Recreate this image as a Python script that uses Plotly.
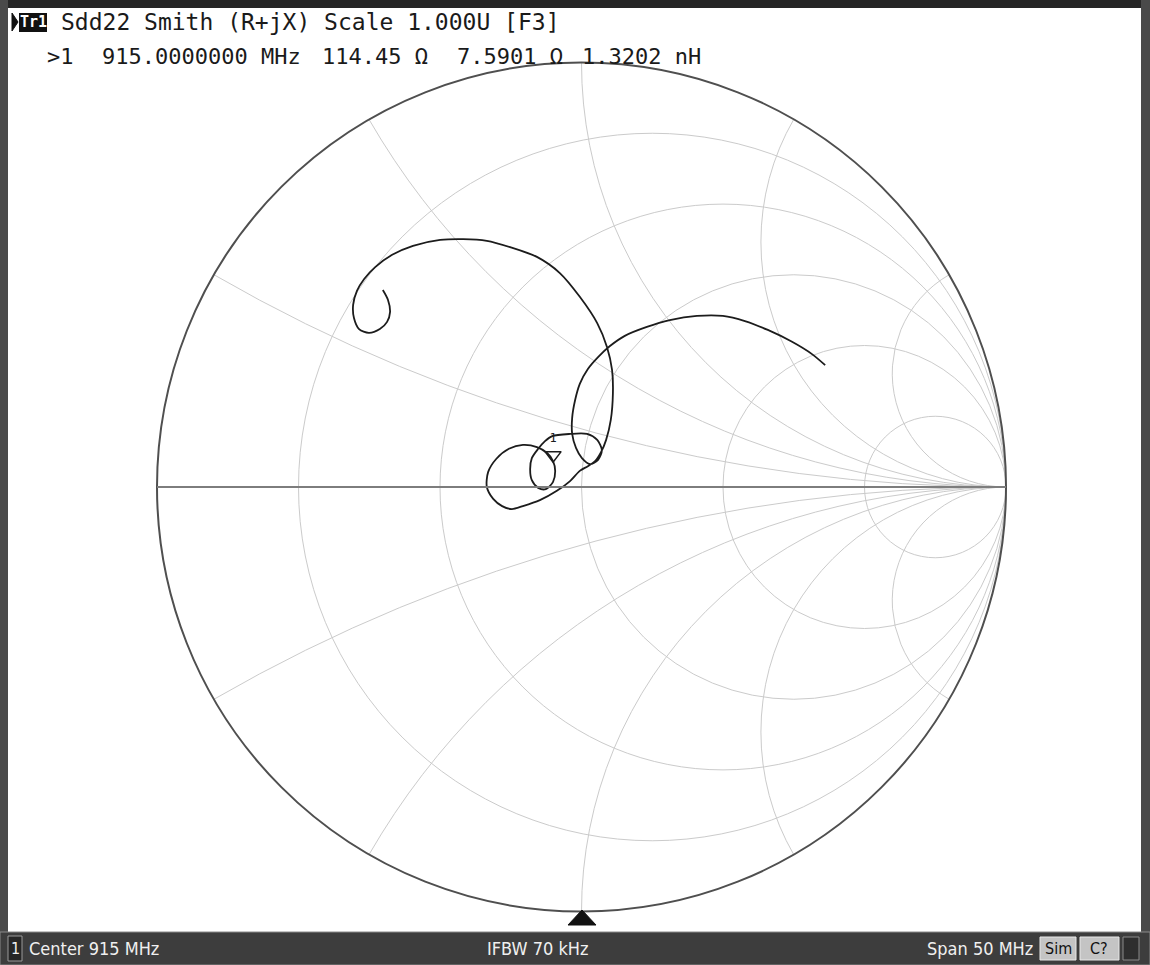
import numpy as np
import plotly.graph_objects as go

W, H = 1150, 965

# ---- data: Sdd22 reflection coefficient (890 -> 940 MHz) ----
GAMMA_RE = [-0.468, -0.456, -0.451, -0.458, -0.475, -0.501, -0.524, -0.536, -0.538, -0.529,
            -0.512, -0.486, -0.446, -0.397, -0.333, -0.279, -0.223, -0.168, -0.105, -0.051,
            -0.004, 0.037, 0.060, 0.072, 0.074, 0.069, 0.058, 0.046, 0.032, 0.015,
            -0.004, -0.027, -0.058, -0.098, -0.138, -0.164, -0.187, -0.208, -0.223, -0.220,
            -0.201, -0.171, -0.138, -0.105, -0.081, -0.067, -0.062, -0.067, -0.084, -0.102,
            -0.117, -0.121, -0.117, -0.102, -0.086, -0.069, -0.027, 0.013, 0.037, 0.048,
            0.039, 0.020, 0.001, -0.013, -0.022, -0.022, -0.015, -0.004, 0.015, 0.039,
            0.067, 0.102, 0.154, 0.208, 0.272, 0.333, 0.385, 0.439, 0.496, 0.543, 0.574]
GAMMA_IM = [0.464, 0.441, 0.412, 0.389, 0.372, 0.363, 0.372, 0.398, 0.429, 0.462,
            0.490, 0.518, 0.547, 0.568, 0.582, 0.584, 0.580, 0.565, 0.542, 0.504,
            0.448, 0.386, 0.330, 0.276, 0.221, 0.158, 0.111, 0.082, 0.061, 0.049,
            0.038, 0.014, -0.009, -0.031, -0.045, -0.052, -0.045, -0.028, 0.000, 0.035,
            0.066, 0.090, 0.099, 0.094, 0.080, 0.061, 0.038, 0.012, -0.005, -0.002,
            0.016, 0.042, 0.068, 0.090, 0.108, 0.120, 0.125, 0.125, 0.111, 0.087,
            0.064, 0.054, 0.068, 0.092, 0.125, 0.163, 0.205, 0.243, 0.278, 0.306,
            0.332, 0.356, 0.377, 0.393, 0.403, 0.403, 0.391, 0.370, 0.342, 0.313, 0.287]

MARKER_LABEL = ["1"]
MARKER_GAMMA_RE = [-0.067]
MARKER_GAMMA_IM = [0.075]

# grid values (normalised resistance circles / reactance arcs)
R_GRID = [0.2, 0.5, 1, 2, 5]
X_GRID = [0.268, 0.577, 1, 1.732, 3.732]

HEADER = "Sdd22 Smith (R+jX) Scale 1.000U [F3]"
READOUT_PARTS = [(">1", 45), ("915.0000000 MHz", 100), ("114.45 \u03a9", 320),
                 ("7.5901 \u03a9", 455), ("1.3202 nH", 580)]
STATUS_LEFT = "Center 915 MHz"
STATUS_MID = "IFBW 70 kHz"
STATUS_RIGHT = "Span 50 MHz"

# ---- helpers ----
def px(x):
    return x / W

def py(y):
    return 1 - y / H

def to_z(re, im):
    g = np.array(re) + 1j * np.array(im)
    return (1 + g) / (1 - g)

z = to_z(GAMMA_RE, GAMMA_IM)
zm = to_z(MARKER_GAMMA_RE, MARKER_GAMMA_IM)

fig = go.Figure()
fig.add_trace(go.Scattersmith(
    real=z.real, imag=z.imag, mode="lines",
    line=dict(color="#1c1c1c", width=1.8, shape="spline", smoothing=0.8),
    hoverinfo="skip"))
fig.add_trace(go.Scattersmith(
    real=zm.real, imag=zm.imag, mode="markers+text", text=MARKER_LABEL,
    textposition="top center", textfont=dict(family="DejaVu Sans Mono", size=12, color="#1c1c1c"),
    marker=dict(symbol="triangle-down-open", size=14, color="#1c1c1c", line=dict(width=1.5)),
    hoverinfo="skip"))

cx, cy, rad = 581.5, 487.0, 424.5
x_ticks = sorted([-v for v in X_GRID] + X_GRID)

fig.update_layout(
    width=W, height=H,
    margin=dict(l=0, r=0, t=0, b=0),
    paper_bgcolor="white",
    showlegend=False,
    smith=dict(
        domain=dict(x=[px(cx - rad), px(cx + rad)], y=[py(cy + rad), py(cy - rad)]),
        bgcolor="white",
        realaxis=dict(tickvals=R_GRID, showgrid=True, gridcolor="#cbcbcb", gridwidth=1,
                      showline=True, linecolor="#7d7d7d", linewidth=2,
                      showticklabels=False, ticks=""),
        imaginaryaxis=dict(tickvals=x_ticks, showgrid=True, gridcolor="#cbcbcb", gridwidth=1,
                           showline=True, linecolor="#4f4f4f", linewidth=2,
                           showticklabels=False, ticks=""),
    ),
)

shapes = []
# window frame
shapes.append(dict(type="rect", xref="paper", yref="paper", x0=0, x1=1, y0=py(8), y1=1,
                   fillcolor="#262626", line_width=0, layer="below"))
shapes.append(dict(type="rect", xref="paper", yref="paper", x0=0, x1=px(8), y0=0, y1=1,
                   fillcolor="#4a4a4a", line_width=0, layer="below"))
shapes.append(dict(type="rect", xref="paper", yref="paper", x0=px(1141), x1=1, y0=0, y1=1,
                   fillcolor="#4a4a4a", line_width=0, layer="below"))
# status bar
shapes.append(dict(type="rect", xref="paper", yref="paper", x0=0, x1=1, y0=0, y1=py(932),
                   fillcolor="#3d3d3d", line=dict(color="#8a8a8a", width=1), layer="below"))
shapes.append(dict(type="rect", xref="paper", yref="paper", x0=px(8), x1=px(22), y0=py(961), y1=py(936),
                   fillcolor="#262626", line=dict(color="#9a9a9a", width=1)))
shapes.append(dict(type="rect", xref="paper", yref="paper", x0=px(1040), x1=px(1076), y0=py(960), y1=py(937),
                   fillcolor="#c4c4c4", line=dict(color="#e8e8e8", width=1)))
shapes.append(dict(type="rect", xref="paper", yref="paper", x0=px(1080), x1=px(1119), y0=py(960), y1=py(937),
                   fillcolor="#c4c4c4", line=dict(color="#e8e8e8", width=1)))
shapes.append(dict(type="rect", xref="paper", yref="paper", x0=px(1123), x1=px(1139), y0=py(960), y1=py(937),
                   fillcolor="#2e2e2e", line=dict(color="#8a8a8a", width=1)))
# Tr1 box
shapes.append(dict(type="rect", xref="paper", yref="paper", x0=px(19), x1=px(47), y0=py(32), y1=py(13),
                   fillcolor="#111111", line_width=0))
# play triangle
shapes.append(dict(type="path", xref="paper", yref="paper",
                   path=f"M {px(12)},{py(13)} L {px(12)},{py(31)} L {px(18)},{py(22)} Z",
                   fillcolor="#111111", line=dict(color="#111111", width=1)))
# stimulus marker triangle at bottom
shapes.append(dict(type="path", xref="paper", yref="paper",
                   path=f"M {px(568)},{py(925)} L {px(596)},{py(925)} L {px(582)},{py(910)} Z",
                   fillcolor="#111111", line=dict(color="#111111", width=1)))
fig.update_layout(shapes=shapes)

mono = "DejaVu Sans Mono"
ann = []
ann.append(dict(x=px(33), y=py(22.5), text="<b>Tr1</b>", showarrow=False, xanchor="center", yanchor="middle",
                font=dict(family=mono, size=15, color="white")))
ann.append(dict(x=px(59), y=py(22), text=HEADER, showarrow=False, xanchor="left", yanchor="middle",
                font=dict(family=mono, size=23, color="#1a1a1a")))
for txt, x0 in READOUT_PARTS:
    ann.append(dict(x=px(x0), y=py(57), text=txt, showarrow=False, xanchor="left", yanchor="middle",
                    font=dict(family=mono, size=22, color="#1a1a1a")))
sb = "DejaVu Sans Condensed, Liberation Sans, Arial, sans-serif"
ann.append(dict(x=px(15), y=py(948), text="1", showarrow=False, xanchor="center", yanchor="middle",
                font=dict(family=sb, size=16, color="#f0f0f0")))
ann.append(dict(x=px(27), y=py(948), text=STATUS_LEFT, showarrow=False, xanchor="left", yanchor="middle",
                font=dict(family=sb, size=18, color="#f0f0f0")))
ann.append(dict(x=px(538), y=py(948), text=STATUS_MID, showarrow=False, xanchor="center", yanchor="middle",
                font=dict(family=sb, size=18, color="#f0f0f0")))
ann.append(dict(x=px(1035), y=py(948), text=STATUS_RIGHT, showarrow=False, xanchor="right", yanchor="middle",
                font=dict(family=sb, size=18, color="#f0f0f0")))
ann.append(dict(x=px(1058), y=py(948), text="Sim", showarrow=False, xanchor="center", yanchor="middle",
                font=dict(family=sb, size=16, color="#111111")))
ann.append(dict(x=px(1099), y=py(948), text="C?", showarrow=False, xanchor="center", yanchor="middle",
                font=dict(family=sb, size=16, color="#111111")))
fig.update_layout(annotations=ann)

fig.write_html("out.html", config={"displayModeBar": False},
               post_script="document.body.style.margin='0px';")
